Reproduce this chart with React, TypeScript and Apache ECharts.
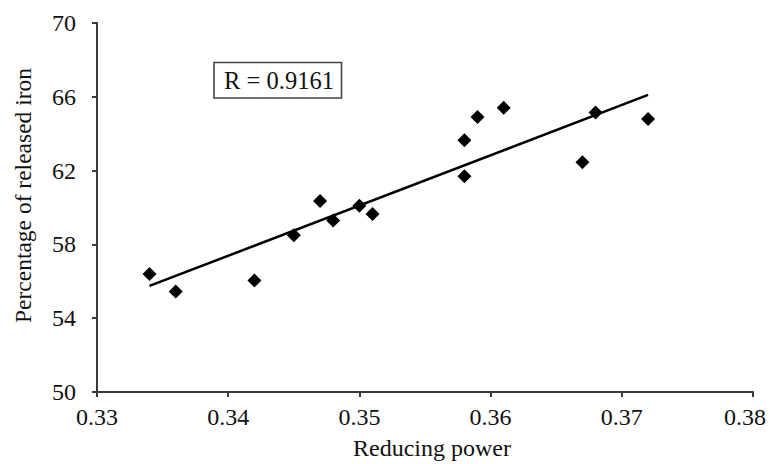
import React, { useEffect, useRef } from "react";
import * as echarts from "echarts";

const reducingPower = [0.334, 0.336, 0.342, 0.345, 0.347, 0.348, 0.35, 0.351, 0.358, 0.358, 0.359, 0.361, 0.367, 0.368, 0.372];
const releasedIron = [56.4, 55.45, 56.05, 58.5, 60.35, 59.3, 60.1, 59.65, 63.65, 61.7, 64.9, 65.4, 62.45, 65.15, 64.8];
const trendX = [0.334, 0.372];
const trendY = [55.75, 66.1];
const xTicks = [0.33, 0.34, 0.35, 0.36, 0.37, 0.38];
const yTicks = [50, 54, 58, 62, 66, 70];
const xTitle = "Reducing power";
const yTitle = "Percentage of released iron";
const rLabel = "R = 0.9161";

const FONT = "Liberation Serif";
const AXIS = "#3a3a3a";
const TXT = "#111";

export default function App() {
  const ref = useRef<HTMLDivElement>(null);
  useEffect(() => {
    if (!ref.current) return;
    const chart = echarts.init(ref.current, undefined, { renderer: "svg" });
    const xMax = xTicks[xTicks.length - 1];
    chart.setOption({
      animation: false,
      backgroundColor: "#ffffff",
      textStyle: { fontFamily: FONT },
      grid: { left: 97, right: 17, top: 23, bottom: 72, containLabel: false, outerBoundsMode: "none" },
      xAxis: {
        type: "value",
        min: xTicks[0],
        max: xMax,
        interval: 0.01,
        axisLine: { show: true, lineStyle: { color: AXIS, width: 2 } },
        axisTick: { show: true, inside: false, length: 5, lineStyle: { color: AXIS, width: 2 } },
        axisLabel: {
          fontFamily: FONT,
          fontSize: 24,
          color: TXT,
          margin: 13,
          formatter: (v: number) =>
            Math.abs(v - xMax) < 1e-9 ? `{last|${v.toFixed(2)}}` : v.toFixed(2),
          rich: {
            last: { fontFamily: FONT, fontSize: 24, color: TXT, padding: [0, 16, 0, 0] },
          },
        },
        splitLine: { show: false },
      },
      yAxis: {
        type: "value",
        min: yTicks[0],
        max: yTicks[yTicks.length - 1],
        interval: 4,
        axisLine: { show: true, lineStyle: { color: AXIS, width: 2 } },
        axisTick: { show: true, inside: false, length: 5, lineStyle: { color: AXIS, width: 2 } },
        axisLabel: { fontFamily: FONT, fontSize: 24, color: TXT, margin: 21, padding: [5, 0, 0, 0] },
        splitLine: { show: false },
      },
      series: [
        {
          type: "scatter",
          data: reducingPower.map((x, i) => [x, releasedIron[i]]),
          symbol: "diamond",
          symbolSize: 14,
          itemStyle: { color: "#000", opacity: 1 },
          z: 3,
        },
        {
          type: "line",
          data: trendX.map((x, i) => [x, trendY[i]]),
          showSymbol: false,
          symbol: "none",
          lineStyle: { color: "#000", width: 2.5 },
          z: 2,
        },
      ],
      graphic: [
        {
          type: "text",
          x: 432,
          y: 460,
          style: {
            text: xTitle,
            fontFamily: FONT,
            fontSize: 24,
            fill: TXT,
            align: "center",
            verticalAlign: "bottom",
          },
        },
        {
          type: "text",
          x: 23,
          y: 195.5,
          rotation: Math.PI / 2,
          style: {
            text: yTitle,
            fontFamily: FONT,
            fontSize: 23.5,
            fill: TXT,
            align: "center",
            verticalAlign: "middle",
          },
        },
        {
          type: "rect",
          shape: { x: 214, y: 62.5, width: 127.5, height: 35.5 },
          style: { fill: "#fff", stroke: "#444", lineWidth: 1.6 },
        },
        {
          type: "text",
          x: 279,
          y: 80,
          style: {
            text: rLabel,
            fontFamily: FONT,
            fontSize: 24.5,
            fill: TXT,
            align: "center",
            verticalAlign: "middle",
          },
        },
      ],
    });
    return () => chart.dispose();
  }, []);
  return <div ref={ref} style={{ width: 770, height: 464, position: "absolute", left: 0, top: 0 }} />;
}
